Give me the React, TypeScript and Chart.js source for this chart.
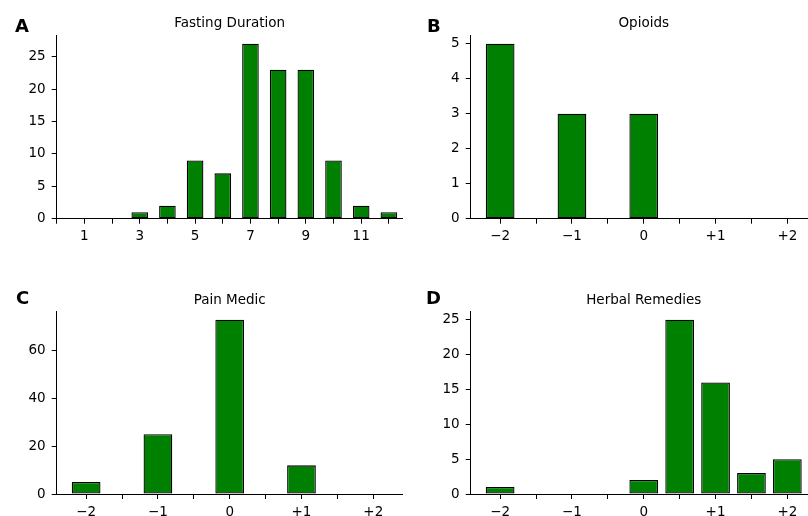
import React, { useEffect, useRef } from 'react';
import { Chart, registerables } from 'chart.js';

Chart.register(...registerables);

// ---- data ----
const fastingHours = [1, 2, 3, 4, 5, 6, 7, 8, 9, 10, 11, 12];
const fastingCounts = [0, 0, 1, 2, 9, 7, 27, 23, 23, 9, 2, 1];
const fastingTickValues = [1, 3, 5, 7, 9, 11];
const fastingTickLabels = ['1', '3', '5', '7', '9', '11'];

const changeBins = [-2, -1.5, -1, -0.5, 0, 0.5, 1, 1.5, 2];
const opioidCounts = [5, 0, 3, 0, 3, 0, 0, 0, 0];
const painMedicCounts = [5, 0, 25, 0, 73, 0, 12, 0, 0];
const herbalCounts = [1, 0, 0, 0, 2, 25, 16, 3, 5];
const changeTickValues = [-2, -1, 0, 1, 2];
const changeTickLabels = ['\u22122', '\u22121', '0', '+1', '+2'];

const panelTitles = ['Fasting Duration', 'Opioids', 'Pain Medic', 'Herbal Remedies'];
const panelLetters = ['A', 'B', 'C', 'D'];

// ---- layout (pixels) ----
const CW = 830;
const CH = 516;
const Y_W = 50;
const X_H = 30;
const FONT = '"DejaVu Sans", sans-serif';

type Panel = {
  xs: number[];
  ys: number[];
  xMin: number;
  xMax: number;
  xStep: number;
  tickVals: number[];
  tickLabels: string[];
  yMax: number;
  yStep: number;
  barPct: number;
  area: { l: number; r: number; t: number; b: number };
  title: string;
  letter: string;
  letterX: number;
  letterY: number;
  titleY: number;
};

const panels: Panel[] = [
  {
    xs: fastingHours, ys: fastingCounts, xMin: 0, xMax: 12.5, xStep: 1,
    tickVals: fastingTickValues, tickLabels: fastingTickLabels,
    yMax: 28.35, yStep: 5, barPct: 0.6,
    area: { l: 56.7, r: 402.7, t: 35, b: 218.7 },
    title: panelTitles[0], letter: panelLetters[0], letterX: 15, letterY: 31.5, titleY: 27,
  },
  {
    xs: changeBins, ys: opioidCounts, xMin: -2.41, xMax: 2.41, xStep: 0.5,
    tickVals: changeTickValues, tickLabels: changeTickLabels,
    yMax: 5.25, yStep: 1, barPct: 0.8,
    area: { l: 470.7, r: 816.8, t: 35, b: 218.7 },
    title: panelTitles[1], letter: panelLetters[1], letterX: 427, letterY: 31.5, titleY: 27,
  },
  {
    xs: changeBins, ys: painMedicCounts, xMin: -2.41, xMax: 2.41, xStep: 0.5,
    tickVals: changeTickValues, tickLabels: changeTickLabels,
    yMax: 76.65, yStep: 20, barPct: 0.8,
    area: { l: 56.7, r: 402.7, t: 311, b: 494 },
    title: panelTitles[2], letter: panelLetters[2], letterX: 16, letterY: 304, titleY: 303.5,
  },
  {
    xs: changeBins, ys: herbalCounts, xMin: -2.41, xMax: 2.41, xStep: 0.5,
    tickVals: changeTickValues, tickLabels: changeTickLabels,
    yMax: 26.25, yStep: 5, barPct: 0.8,
    area: { l: 470.7, r: 816.8, t: 311, b: 494 },
    title: panelTitles[3], letter: panelLetters[3], letterX: 426, letterY: 304, titleY: 303.5,
  },
];

function makeChart(canvas: HTMLCanvasElement, p: Panel) {
  const tickFont = { family: FONT, size: 13.5 };
  const axisGrid = {
    display: true,
    offset: false,
    drawOnChartArea: false,
    drawTicks: true,
    tickLength: 5,
    tickColor: '#000',
    tickWidth: 1,
  };
  const axisBorder = { display: true, color: '#000', width: 1 };
  return new Chart(canvas, {
    type: 'bar',
    data: {
      datasets: [
        {
          data: p.xs.map((x, i) => ({ x, y: p.ys[i] })),
          backgroundColor: '#008000',
          borderColor: '#000',
          borderWidth: 1.3,
          borderSkipped: false,
          barPercentage: p.barPct,
          categoryPercentage: 1,
        } as any,
      ],
    },
    options: {
      responsive: false,
      animation: false,
      devicePixelRatio: 1,
      layout: {
        padding: {
          left: p.area.l - Y_W,
          right: CW - p.area.r,
          top: p.area.t,
          bottom: CH - p.area.b - X_H,
        },
      },
      plugins: {
        legend: { display: false },
        title: { display: false },
        tooltip: { enabled: false },
      },
      scales: {
        x: {
          type: 'linear',
          min: p.xMin,
          max: p.xMax,
          offset: false,
          grid: axisGrid,
          border: axisBorder,
          ticks: {
            stepSize: p.xStep,
            includeBounds: false,
            autoSkip: false,
            maxRotation: 0,
            font: tickFont,
            color: '#000',
            padding: 5,
            callback: (v: any) => {
              const i = p.tickVals.findIndex((t) => Math.abs(t - Number(v)) < 1e-6);
              return i >= 0 ? p.tickLabels[i] : '';
            },
          },
          afterFit: (s: any) => {
            s.height = X_H;
          },
        },
        y: {
          type: 'linear',
          min: 0,
          max: p.yMax,
          grid: axisGrid,
          border: axisBorder,
          ticks: {
            stepSize: p.yStep,
            includeBounds: false,
            font: tickFont,
            color: '#000',
            padding: 6,
          },
          afterFit: (s: any) => {
            s.width = Y_W;
          },
        },
      } as any,
    },
    plugins: [
      {
        id: 'panelText',
        afterDraw(chart: any) {
          const ctx = chart.ctx as CanvasRenderingContext2D;
          const a = chart.chartArea;
          ctx.save();
          ctx.fillStyle = '#000';
          ctx.textBaseline = 'alphabetic';
          ctx.font = `13.5px ${FONT}`;
          ctx.textAlign = 'center';
          ctx.fillText(p.title, (a.left + a.right) / 2, p.titleY);
          ctx.font = `bold 18px ${FONT}`;
          ctx.textAlign = 'left';
          ctx.fillText(p.letter, p.letterX, p.letterY);
          ctx.restore();
        },
      },
    ],
  });
}

export default function App() {
  const refs = useRef<(HTMLCanvasElement | null)[]>([]);
  useEffect(() => {
    Chart.defaults.font.family = FONT;
    const charts = panels.map((p, i) => makeChart(refs.current[i] as HTMLCanvasElement, p));
    return () => charts.forEach((c) => c.destroy());
  }, []);
  return (
    <div
      style={{
        position: 'fixed',
        left: 0,
        top: 0,
        width: 808,
        height: 516,
        overflow: 'hidden',
        background: '#fff',
      }}
    >
      {panels.map((_, i) => (
        <canvas
          key={i}
          ref={(el) => {
            refs.current[i] = el;
          }}
          width={CW}
          height={CH}
          style={{ position: 'absolute', left: 0, top: 0, width: CW, height: CH }}
        />
      ))}
    </div>
  );
}
